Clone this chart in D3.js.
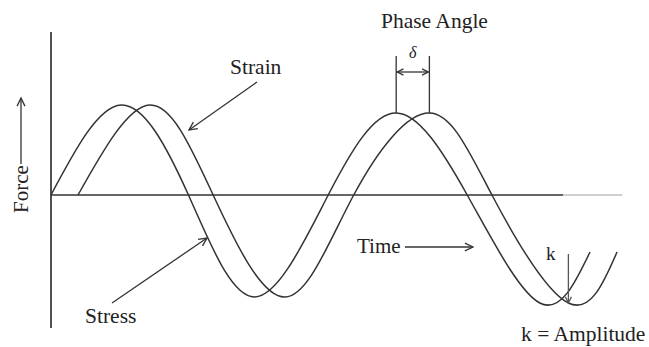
<!DOCTYPE html>
<html>
<head>
<meta charset="utf-8">
<script src="https://cdn.jsdelivr.net/npm/d3@7"></script>
<style>
  html, body { margin: 0; padding: 0; background: #fff; }
  svg { display: block; }
</style>
</head>
<body>
<svg></svg>
<script>
let width = 649,
  height = 347;

// phase in degrees and force in amplitude units
let stressPhase = [0, 91, 178, 264, 359, 447, 539, 633, 698];
let stressForce = [0, 0.9, 0, -1.02, 0, 0.82, 0, -1.08, -0.57];
let strainPhase = [35, 128, 210, 303, 392, 490, 571, 670, 733];
let strainForce = [0, 0.9, 0, -1.02, 0, 0.82, 0, -1.08, -0.57];

let labels = {
  force: "Force",
  time: "Time",
  stress: "Stress",
  strain: "Strain",
  phase: "Phase Angle",
  delta: "δ",
  k: "k",
  amplitude: "k = Amplitude",
};

let svg = d3.select("svg").attr("width", width).attr("height", height)
  .attr("viewBox", "0 0 " + width + " " + height);

let x = d3.scaleLinear().domain([0, 720]).range([51, 607]);
let y = d3.scaleLinear().domain([0, 1]).range([195, 95]);

let ink = "#333";
let serif = "'Times New Roman', 'Liberation Serif', Times, serif";

// arrow with open chevron head at (x2,y2)
function arrow(g, x1, y1, x2, y2, opts) {
  opts = opts || {};
  let len = opts.head || 9,
    ang = Math.atan2(y2 - y1, x2 - x1),
    spread = 0.45;
  g.append("line")
    .attr("x1", x1).attr("y1", y1).attr("x2", x2).attr("y2", y2)
    .attr("stroke", opts.color || ink).attr("stroke-width", opts.sw || 1.3);
  let heads = opts.both ? [[x2, y2, ang], [x1, y1, ang + Math.PI]] : [[x2, y2, ang]];
  heads.forEach((h) => {
    let p = [
      [h[0] - len * Math.cos(h[2] - spread), h[1] - len * Math.sin(h[2] - spread)],
      [h[0], h[1]],
      [h[0] - len * Math.cos(h[2] + spread), h[1] - len * Math.sin(h[2] + spread)],
    ];
    g.append("path")
      .attr("d", d3.line()(p))
      .attr("fill", "none")
      .attr("stroke", opts.color || ink)
      .attr("stroke-width", opts.sw || 1.3);
  });
}

// axes
svg.append("line")
  .attr("x1", x(0)).attr("x2", x(0)).attr("y1", 32).attr("y2", 328)
  .attr("stroke", ink).attr("stroke-width", 1.7);
svg.append("line")
  .attr("x1", x(0)).attr("x2", x(663)).attr("y1", y(0)).attr("y2", y(0))
  .attr("stroke", ink).attr("stroke-width", 1.7);
svg.append("line")
  .attr("x1", x(663)).attr("x2", x(740)).attr("y1", y(0)).attr("y2", y(0))
  .attr("stroke", "#888").attr("stroke-width", 0.8);

// curves
let line = d3.line()
  .x((d) => x(d[0]))
  .y((d) => y(d[1]))
  .curve(d3.curveNatural);

svg.append("path")
  .datum(d3.zip(stressPhase, stressForce))
  .attr("d", line)
  .attr("fill", "none").attr("stroke", ink).attr("stroke-width", 1.5);

svg.append("path")
  .datum(d3.zip(strainPhase, strainForce))
  .attr("d", line)
  .attr("fill", "none").attr("stroke", ink).attr("stroke-width", 1.5);

let ann = svg.append("g")
  .attr("font-family", serif)
  .attr("fill", "#222");

// Force label + arrow
ann.append("text")
  .attr("transform", "translate(28,213) rotate(-90)")
  .attr("font-size", 21)
  .text(labels.force);
arrow(ann, 21, 164, 21, 98);

// Strain / Stress labels
ann.append("text").attr("x", 230).attr("y", 74).attr("font-size", 21.5).text(labels.strain);
arrow(ann, 257, 82, 189, 130);

ann.append("text").attr("x", 85).attr("y", 323).attr("font-size", 21.5).text(labels.stress);
arrow(ann, 112, 303, 207, 238);

// phase angle
let p1 = x(stressPhase[5]),
  p2 = x(strainPhase[5]),
  pk = y(stressForce[5]);
ann.append("text").attr("x", 381).attr("y", 28).attr("font-size", 21.5).text(labels.phase);
ann.append("line").attr("x1", p1).attr("x2", p1).attr("y1", 56).attr("y2", pk)
  .attr("stroke", ink).attr("stroke-width", 1.3);
ann.append("line").attr("x1", p2).attr("x2", p2).attr("y1", 56).attr("y2", pk)
  .attr("stroke", ink).attr("stroke-width", 1.3);
arrow(ann, p1 + 1, 72, p2 - 1, 72, { both: true, head: 7 });
ann.append("text").attr("x", (p1 + p2) / 2).attr("y", 58)
  .attr("text-anchor", "middle").attr("font-size", 16).attr("font-style", "italic")
  .text(labels.delta);

// Time
ann.append("text").attr("x", 357).attr("y", 253).attr("font-size", 21).text(labels.time);
arrow(ann, 405, 247, 473, 247);

// amplitude
let kx = x(strainPhase[7]),
  ky = y(strainForce[7]);
ann.append("text").attr("x", 546).attr("y", 260).attr("font-size", 19).text(labels.k);
arrow(ann, kx, 254, kx, ky, { color: "#555", head: 7 });
ann.append("text").attr("x", 521).attr("y", 341).attr("font-size", 21.5).text(labels.amplitude);
</script>
</body>
</html>
